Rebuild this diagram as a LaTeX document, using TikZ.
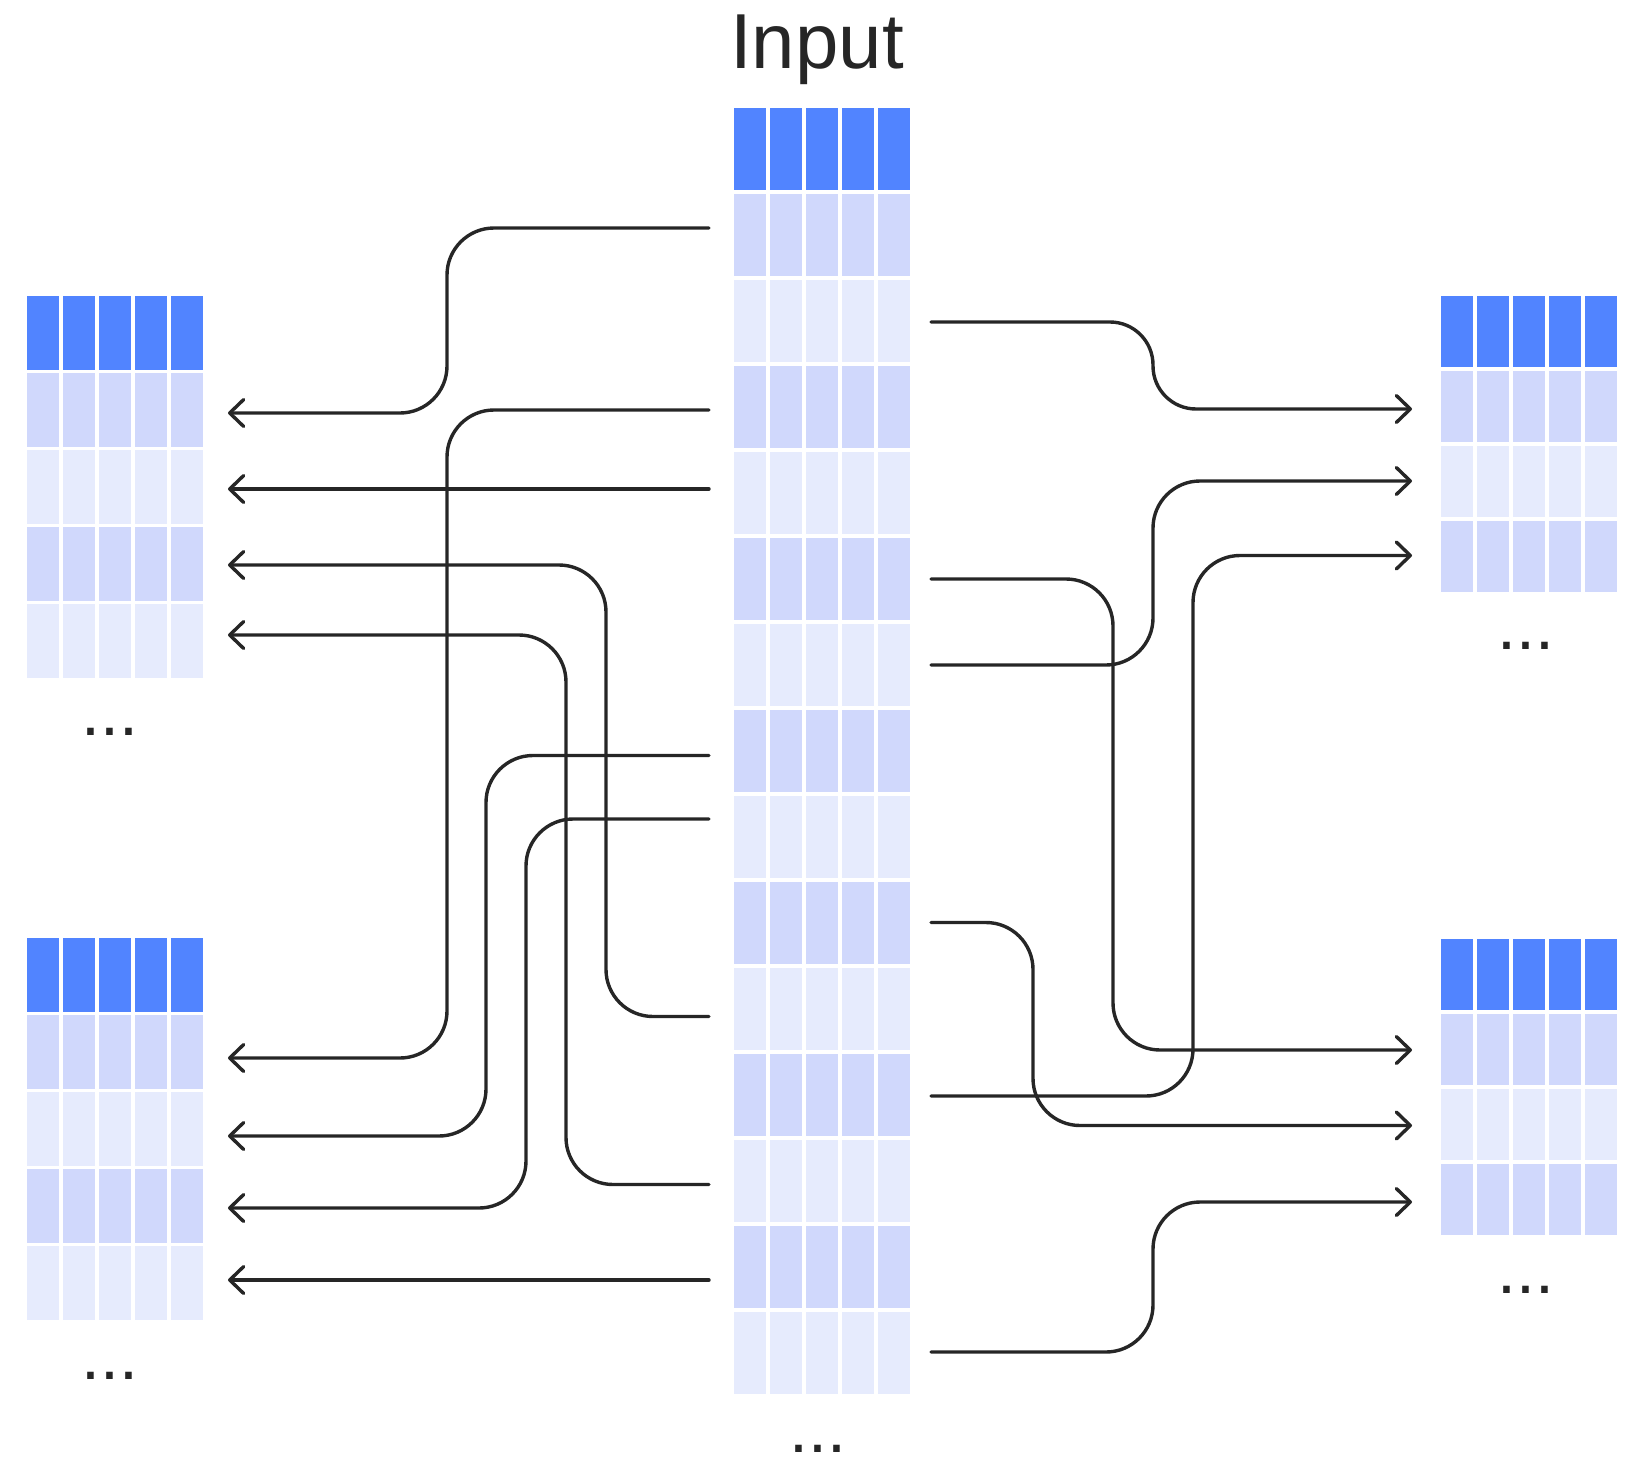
\documentclass[tikz,border=0pt]{standalone}
\usepackage{fontspec}
\setmainfont{Liberation Sans}
\usetikzlibrary{arrows.meta}
\definecolor{hdrblue}{HTML}{5184FF}
\definecolor{rowdark}{HTML}{D0D8FC}
\definecolor{rowlight}{HTML}{E6EBFD}
\definecolor{inkc}{HTML}{262626}
% #1 name, #2 left x, #3 top y, #4 cell height, #5 row pitch, #6 number of data rows
\newcommand{\drawgrid}[6]{%
  \foreach \c in {0,...,4}{%
    \node[cellbox, fill=hdrblue, minimum height=#4pt] (#1-0-\c) at ({#2+16+36*\c},{#3+#4/2}) {};
    \foreach \r in {1,...,#6}{%
      \pgfmathtruncatemacro\oddrow{mod(\r,2)}%
      \ifnum\oddrow=1 \def\fc{rowdark}\else\def\fc{rowlight}\fi
      \node[cellbox, fill=\fc, minimum height=#4pt] (#1-\r-\c) at ({#2+16+36*\c},{#3+#5*\r+#4/2}) {};
    }%
  }%
}
\begin{document}
\begin{tikzpicture}[x=1pt,y=-1pt,
  cellbox/.style={rectangle, inner sep=0pt, outer sep=0pt, minimum width=32pt, draw=none},
  conn/.style={draw=inkc, line width=3.4pt, line cap=round, line join=round, rounded corners=47pt,
    -{Straight Barb[length=14pt,width=27pt,round]}},
  dotsnode/.style={anchor=base, inner sep=0pt, text=inkc, font=\fontsize{68}{70}\selectfont},
]
\useasboundingbox (0,0) rectangle (1629,1458);

% title
\node[anchor=base, inner sep=0pt, text=inkc, font=\fontsize{78}{90}\selectfont] (title) at (817,69) {Input};

% grids
\drawgrid{in}{734}{108}{82}{86}{14}
\drawgrid{lt}{27}{296}{74}{77}{4}
\drawgrid{lb}{27}{938}{74}{77}{4}
\drawgrid{rt}{1441}{296}{71}{75}{3}
\drawgrid{rb}{1441}{939}{71}{75}{3}

% ellipses
\node[dotsnode] (dotsin) at (818,1452) {...};
\node[dotsnode] (dotslt) at (110,735) {...};
\node[dotsnode] (dotslb) at (110,1379) {...};
\node[dotsnode] (dotsrt) at (1526,649) {...};
\node[dotsnode] (dotsrb) at (1526,1293) {...};

% connector end points (left side)
\coordinate (a1) at (709,228);    \coordinate (b1) at (228,413);
\coordinate (a2) at (709,410);    \coordinate (b2) at (228,1058);
\coordinate (a3) at (709,489);    \coordinate (b3) at (228,489);
\coordinate (a4) at (709,1016.5); \coordinate (b4) at (228,565);
\coordinate (a5) at (709,1184.5); \coordinate (b5) at (228,635);
\coordinate (a6) at (709,755.5);  \coordinate (b6) at (228,1136);
\coordinate (a7) at (709,819);    \coordinate (b7) at (228,1208);
\coordinate (a8) at (709,1280);   \coordinate (b8) at (228,1280);
% right side
\coordinate (c1) at (931,322);    \coordinate (d1) at (1412,409);
\coordinate (c2) at (931,665);    \coordinate (d2) at (1412,481);
\coordinate (c3) at (931,1096);   \coordinate (d3) at (1412,555.5);
\coordinate (c4) at (931,579);    \coordinate (d4) at (1412,1050);
\coordinate (c5) at (931,922.5);  \coordinate (d5) at (1412,1125.5);
\coordinate (c6) at (931,1352);   \coordinate (d6) at (1412,1202);

% left connectors
\draw[conn] (a1) -| (447,413) -- (b1);
\draw[conn] (a2) -| (447,1058) -- (b2);
\draw[conn] (a3) -- (b3);
\draw[conn] (a4) -| (606,565) -- (b4);
\draw[conn] (a5) -| (566,635) -- (b5);
\draw[conn] (a6) -| (486,1136) -- (b6);
\draw[conn] (a7) -| (526,1208) -- (b7);
\draw[conn] (a8) -- (b8);

% right connectors
\draw[conn, rounded corners=43pt] (c1) -| (1153,409) -- (d1);
\draw[conn] (c2) -| (1153,481) -- (d2);
\draw[conn] (c3) -| (1193,555.5) -- (d3);
\draw[conn] (c4) -| (1113,1050) -- (d4);
\draw[conn] (c5) -| (1033,1125.5) -- (d5);
\draw[conn] (c6) -| (1153,1202) -- (d6);
\end{tikzpicture}
\end{document}
